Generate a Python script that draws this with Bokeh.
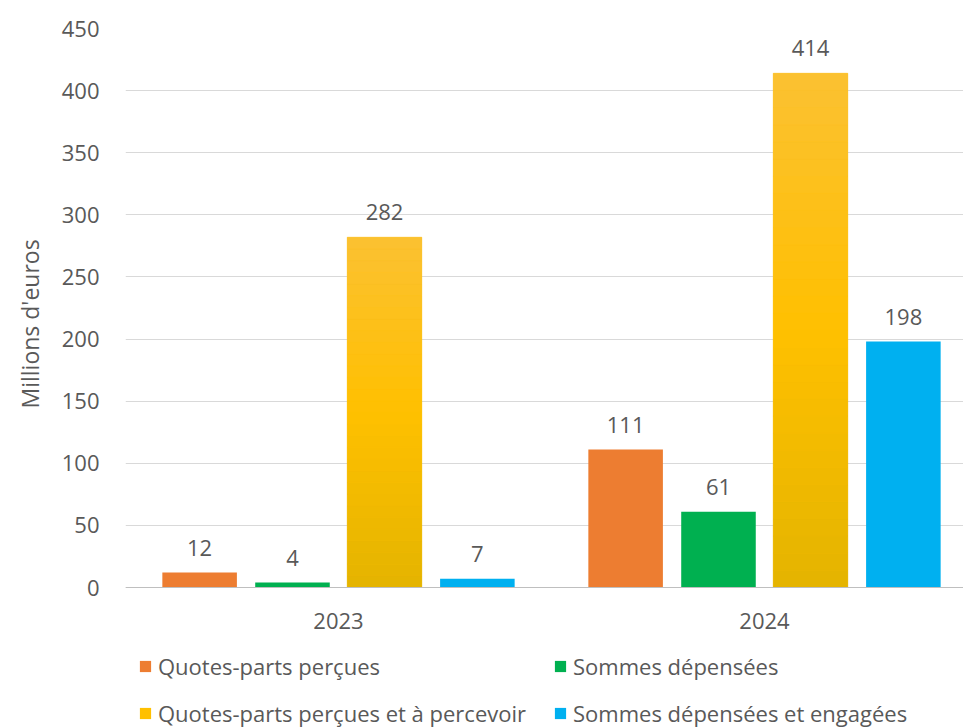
from bokeh.plotting import figure
from bokeh.models import ColumnDataSource, Legend, LegendItem, FixedTicker, Range1d, Title
from bokeh.embed import file_html
from bokeh.resources import INLINE
from bokeh.core.properties import value

years = ["2023", "2024"]
series_names = ["Quotes-parts perçues", "Sommes dépensées",
                "Quotes-parts perçues et à percevoir", "Sommes dépensées et engagées"]
quotes_parts_percues = [12, 111]
sommes_depensees = [4, 61]
quotes_parts_a_percevoir = [282, 414]
sommes_engagees = [7, 198]
y_ticks = [0, 50, 100, 150, 200, 250, 300, 350, 400, 450]
y_title = "Millions d'euros"

all_series = [quotes_parts_percues, sommes_depensees, quotes_parts_a_percevoir, sommes_engagees]
colors = ["#ED7D31", "#00B050", "#FFC000", "#00B0F0"]
offsets = [-0.326, -0.108, 0.108, 0.326]
FONT = "Open Sans"
TXT = "#595959"
FS = "22px"

# pixel geometry of the frame: 0 at y=587, 450 at y=28, frame extends to bottom of canvas
px_per_unit = (587 - 28) / 450.0
y_min = -(728 - 587) / px_per_unit

p = figure(width=963, height=728, output_backend="svg", toolbar_location=None,
           x_range=Range1d(0, (963 - 125) / 426.0), y_range=Range1d(y_min, 450),
           min_border_left=125, min_border_right=0, min_border_top=28, min_border_bottom=0)
p.outline_line_color = None
p.background_fill_color = "white"
p.border_fill_color = "white"


def mix(c1, c2, t):
    a = [int(c1[k:k + 2], 16) for k in (1, 3, 5)]
    b = [int(c2[k:k + 2], 16) for k in (1, 3, 5)]
    return "#%02x%02x%02x" % tuple(round(a[j] + (b[j] - a[j]) * t) for j in range(3))


renderers = []
for si, (vals, col, off, name) in enumerate(zip(all_series, colors, offsets, series_names)):
    xs = [i + 0.5 + off for i in range(len(years))]
    src = ColumnDataSource(dict(x=xs, top=vals, lab=[str(v) for v in vals]))
    r = p.vbar(x="x", top="top", width=0.175, bottom=0, source=src,
               fill_color=col, line_color=None)
    renderers.append((name, r))
    if si == 2:
        # vertical gradient overlay (light top, darker bottom) like the original
        n = 30
        bx, bb, bt, bc = [], [], [], []
        for x, v in zip(xs, vals):
            for k in range(n):
                t = (k + 0.5) / n
                if t < 0.5:
                    c = mix("#E4B400", "#FFC000", t / 0.5)
                else:
                    c = mix("#FFC000", "#FBC132", (t - 0.5) / 0.5)
                bx.append(x)
                bb.append(v * k / n)
                bt.append(v * (k + 1) / n)
                bc.append(c)
        gsrc = ColumnDataSource(dict(x=bx, bottom=bb, top=bt, color=bc))
        p.vbar(x="x", bottom="bottom", top="top", width=0.175, source=gsrc,
               fill_color="color", line_color="color", line_width=0.5)
    p.text(x="x", y="top", text="lab", source=src, text_align="center",
           text_baseline="bottom", y_offset=-17, text_font=value(FONT),
           text_font_size=FS, text_color=TXT)

# axes
p.xaxis.fixed_location = 0
p.xaxis.ticker = FixedTicker(ticks=[i + 0.5 for i in range(len(years))])
p.xaxis.major_label_overrides = {i + 0.5: y for i, y in enumerate(years)}
p.xaxis.major_tick_line_color = None
p.xaxis.minor_tick_line_color = None
p.xaxis.axis_line_color = "#BFBFBF"
p.xaxis.major_label_standoff = 19
p.xaxis.major_label_text_font = FONT
p.xaxis.major_label_text_font_size = FS
p.xaxis.major_label_text_color = TXT

p.yaxis.ticker = FixedTicker(ticks=y_ticks)
p.yaxis.major_tick_line_color = None
p.yaxis.minor_tick_line_color = None
p.yaxis.axis_line_color = None
p.yaxis.major_label_standoff = 20
p.yaxis.major_label_text_font = FONT
p.yaxis.major_label_text_font_size = FS
p.yaxis.major_label_text_color = TXT

# y axis title as a side title so it can sit where the original puts it
ytitle = Title(text=y_title, align="left", offset=320, vertical_align="middle",
               standoff=24, text_font=FONT, text_font_size="23px",
               text_font_style="normal", text_color=TXT)
p.add_layout(ytitle, "left")

p.xgrid.grid_line_color = None
p.ygrid.grid_line_color = "#D9D9D9"
p.ygrid.grid_line_width = 1

legend = Legend(items=[LegendItem(label=n, renderers=[r]) for n, r in renderers],
                orientation="horizontal", ncols=2, location=(13, 0),
                label_text_font=FONT, label_text_font_size=FS, label_text_color=TXT,
                glyph_width=14, glyph_height=14, label_standoff=6, spacing=17,
                label_width=378,
                border_line_color=None, background_fill_alpha=0, margin=0, padding=0)
p.add_layout(legend, "center")

open("out.html", "w").write(file_html(p, INLINE))
